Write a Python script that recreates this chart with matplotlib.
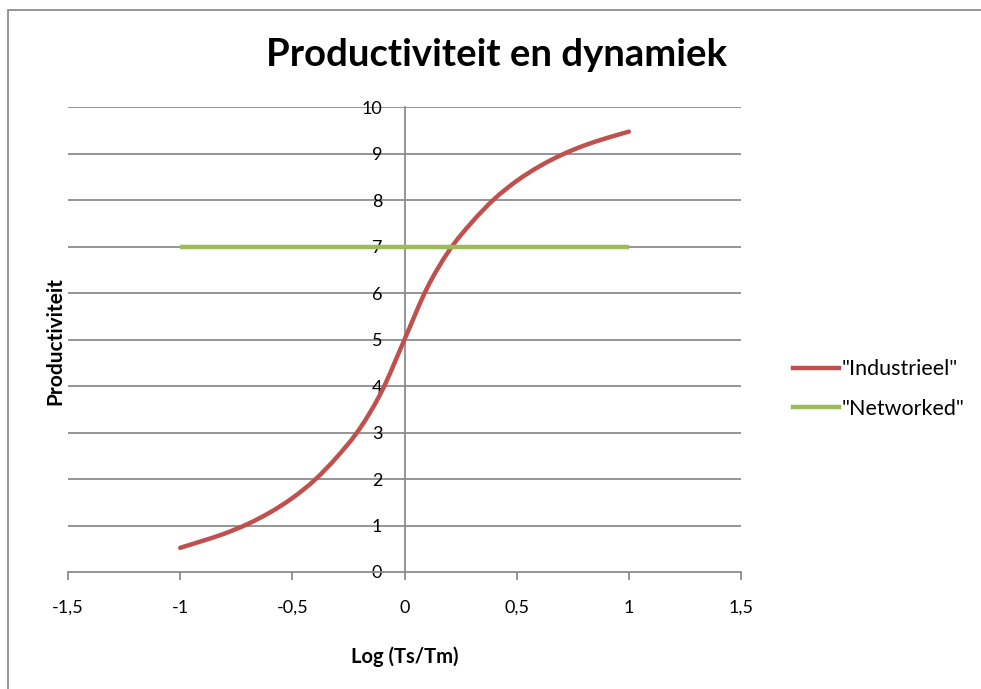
import matplotlib
matplotlib.use("Agg")
import numpy as np
import matplotlib.pyplot as plt
from matplotlib.patches import Rectangle, PathPatch
from matplotlib.path import Path
from matplotlib.lines import Line2D
from matplotlib.ticker import FuncFormatter

# Series data
log_ratio = [-1.0, -0.9, -0.8, -0.7, -0.6, -0.5, -0.4, -0.3, -0.2, -0.1, 0.0,
             0.1, 0.2, 0.3, 0.4, 0.5, 0.6, 0.7, 0.8, 0.9, 1.0]
industrieel = [0.52, 0.67, 0.83, 1.03, 1.28, 1.59, 1.98, 2.48, 3.08, 3.90, 5.0,
               6.10, 6.92, 7.52, 8.02, 8.41, 8.72, 8.97, 9.17, 9.33, 9.47]
networked_x = [-1.0, 1.0]
networked = [7.0, 7.0]

x_ticks = [-1.5, -1.0, -0.5, 0.0, 0.5, 1.0, 1.5]
y_ticks = list(range(0, 11))

title = "Productiviteit en dynamiek"
x_label = "Log (Ts/Tm)"
y_label = "Productiviteit"
series_names = ['"Industrieel"', '"Networked"']

RED = "#C0504D"
GREEN = "#9BBB59"
GRID = "#8C8C8C"
LW = 3.2

plt.rcParams["font.family"] = ["Lato", "DejaVu Sans"]


def smooth_path(xs, ys):
    """Smoothed line through the points as cubic Bezier segments
    (Catmull-Rom tangents), like a spreadsheet 'smoothed line'."""
    p = np.column_stack([xs, ys]).astype(float)
    n = len(p)
    verts = [p[0]]
    codes = [Path.MOVETO]
    for i in range(n - 1):
        p0 = p[i - 1] if i > 0 else p[i]
        p1, p2 = p[i], p[i + 1]
        p3 = p[i + 2] if i + 2 < n else p[i + 1]
        c1 = p1 + (p2 - p0) / 6.0
        c2 = p2 - (p3 - p1) / 6.0
        verts += [c1, c2, p2]
        codes += [Path.CURVE4] * 3
    return Path(verts, codes)


W, H = 981, 689
fig = plt.figure(figsize=(W / 100, H / 100), dpi=100)

# Chart-area frame
fig.patches.append(Rectangle((8 / W, -0.1), 1.2, 1 - 10 / H + 0.1,
                             transform=fig.transFigure, fill=False,
                             edgecolor="#8E8E8E", linewidth=1.3))

ax = fig.add_axes([68 / W, 1 - 572 / H, (741 - 68) / W, (572 - 107) / H])
ax.set_xlim(-1.5, 1.5)
ax.set_ylim(0, 10)

for y in y_ticks[1:]:
    ax.axhline(y, color=GRID, linewidth=1.3, zorder=1)

ax.add_patch(PathPatch(smooth_path(log_ratio, industrieel), fill=False,
                       edgecolor=RED, linewidth=LW, capstyle="round",
                       joinstyle="round", zorder=3))
ax.plot(networked_x, networked, color=GREEN, linewidth=LW,
        solid_capstyle="butt", zorder=3)

for s in ["top", "right"]:
    ax.spines[s].set_visible(False)
ax.spines["left"].set_position(("data", 0))
ax.spines["left"].set_color(GRID)
ax.spines["left"].set_linewidth(1.3)
ax.spines["bottom"].set_color(GRID)
ax.spines["bottom"].set_linewidth(1.3)

ax.set_xticks(x_ticks)
ax.xaxis.set_major_formatter(FuncFormatter(
    lambda v, p: ("%g" % v).replace(".", ",")))
ax.set_yticks(y_ticks)
ax.tick_params(axis="x", direction="out", length=6, width=1.3, color=GRID,
               pad=14, labelsize=13)
ax.tick_params(axis="y", length=0, pad=16, labelsize=13)

ax.set_xlabel(x_label, fontsize=14.5, fontweight="bold", va="center")
ax.xaxis.set_label_coords(0.5, (572 - 657) / 465)
fig.text(55 / W, 1 - 341 / H, y_label, rotation=90, fontsize=15,
         fontweight="bold", ha="center", va="center")

fig.text(497 / W, 1 - 55 / H, title, fontsize=27.5, fontweight="bold",
         ha="center", va="center")

handles = [Line2D([], [], color=RED, linewidth=LW),
           Line2D([], [], color=GREEN, linewidth=LW)]
fig.legend(handles, series_names, loc="center left",
           bbox_to_anchor=(782 / W, 1 - 389 / H), frameon=False,
           fontsize=15.5, borderpad=0, handlelength=2.15,
           handletextpad=0.1, labelspacing=0.9)

fig.savefig("out.png", dpi=100, facecolor="white")
